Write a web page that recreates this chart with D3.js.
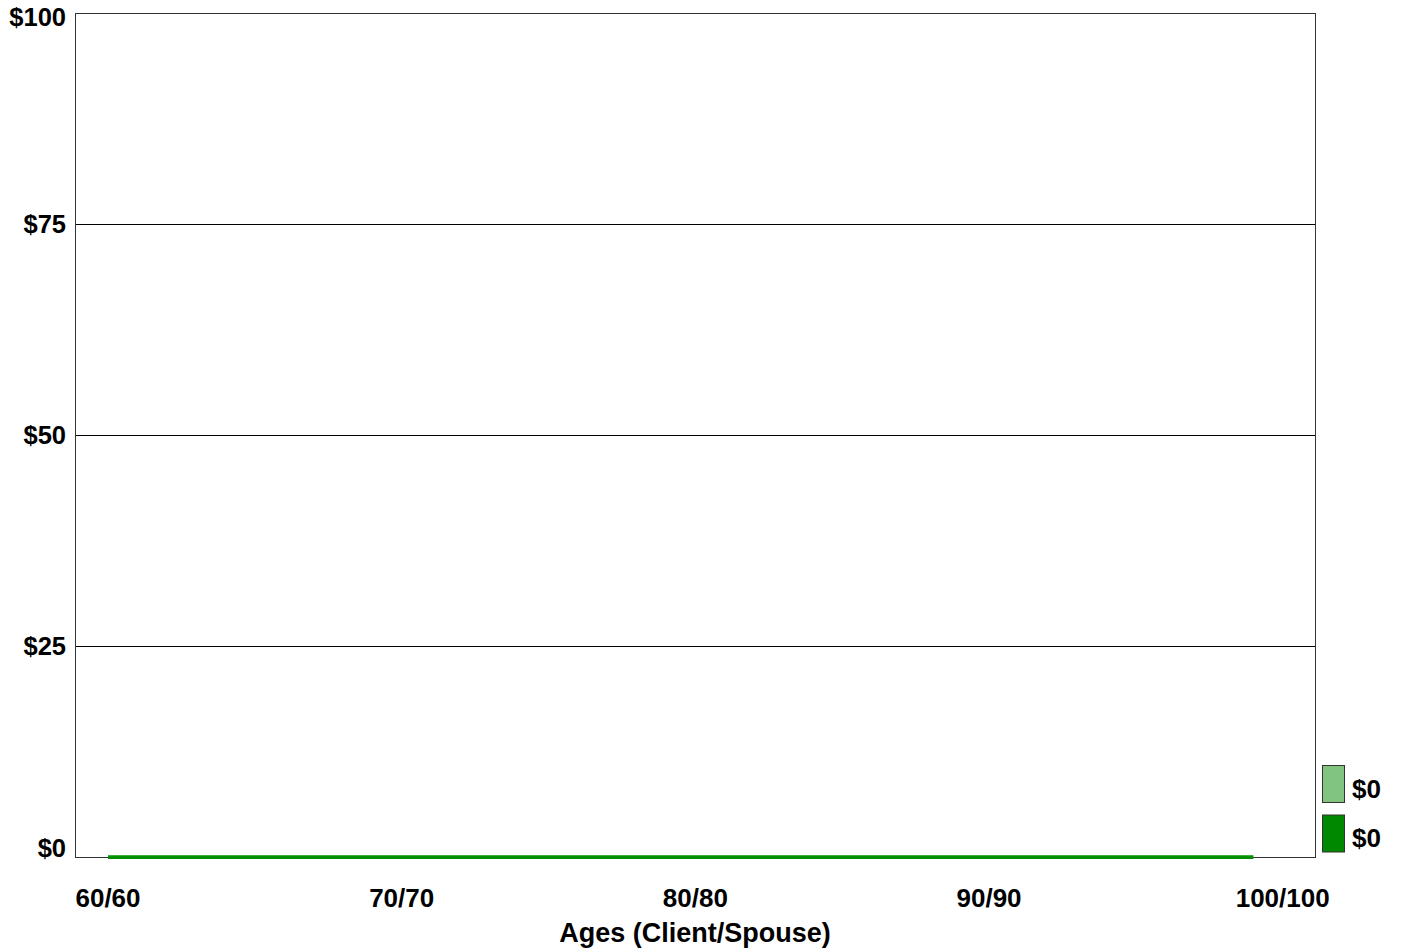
<!DOCTYPE html>
<html>
<head>
<meta charset="utf-8">
<script src="https://cdn.jsdelivr.net/npm/d3@7"></script>
<style>
  html, body { margin: 0; padding: 0; background: #fff; }
  svg { display: block; font-family: "Liberation Sans", Arial, sans-serif; font-weight: bold; }
</style>
</head>
<body>
<svg id="chart" width="1401" height="951"></svg>
<script>
// Ages along the projection (client/spouse share the same age)
const ages = d3.range(60, 100);
// Two stacked income series, both zero over the whole horizon
const seriesLight = ages.map(() => 0);
const seriesDark = ages.map(() => 0);
const legendValues = ["$0", "$0"];
const yTicks = [0, 25, 50, 75, 100];
const xTicks = [60, 70, 80, 90, 100];
const xTitle = "Ages (Client/Spouse)";

const svg = d3.select("#chart");
const plot = { left: 75, right: 1315, top: 13, bottom: 857 };

const x = d3.scaleLinear().domain([58.876, 101.1]).range([plot.left, plot.right]);
const y = d3.scaleLinear().domain([0, 100]).range([plot.bottom, plot.top]);

// horizontal grid lines
svg.append("g").selectAll("line")
  .data(yTicks.filter(v => v > 0 && v < 100))
  .join("line")
  .attr("x1", plot.left).attr("x2", plot.right)
  .attr("y1", d => y(d) + 0.5).attr("y2", d => y(d) + 0.5)
  .attr("stroke", "#000").attr("stroke-width", 1);

// plot frame
svg.append("rect")
  .attr("x", plot.left + 0.5).attr("y", plot.top + 0.5)
  .attr("width", plot.right - plot.left).attr("height", plot.bottom - plot.top)
  .attr("fill", "none").attr("stroke", "#333").attr("stroke-width", 1);

// y tick labels, kept inside the drawing area at the extremes
svg.append("g").selectAll("text")
  .data(yTicks)
  .join("text")
  .attr("x", 66)
  .attr("y", d => Math.min(Math.max(y(d), 17), 848))
  .attr("dy", "0.35em")
  .attr("text-anchor", "end")
  .attr("font-size", 25.5)
  .text(d => "$" + d);

// x tick labels
svg.append("g").selectAll("text")
  .data(xTicks)
  .join("text")
  .attr("x", d => x(d))
  .attr("y", 907)
  .attr("text-anchor", "middle")
  .attr("font-size", 26)
  .text(d => d + "/" + d);

svg.append("text")
  .attr("x", (plot.left + plot.right) / 2)
  .attr("y", 942)
  .attr("text-anchor", "middle")
  .attr("font-size", 27)
  .text(xTitle);

// stacked series
const stacked = ages.map((a, i) => ({ age: a, dark: seriesDark[i], light: seriesDark[i] + seriesLight[i] }));

const area = (key0, key1) => d3.area()
  .x(d => x(d.age))
  .y0(d => y(key0 ? d[key0] : 0))
  .y1(d => y(d[key1]));

svg.append("path").datum(stacked)
  .attr("d", area("dark", "light"))
  .attr("fill", "#80c480");
svg.append("path").datum(stacked)
  .attr("d", area(null, "dark"))
  .attr("fill", "#008800");

svg.append("path").datum(stacked)
  .attr("d", d3.line().x(d => x(d.age)).y(d => y(d.light) + 0.2))
  .attr("fill", "none").attr("stroke", "#009000").attr("stroke-width", 3.8);

// legend
const legendColors = ["#80c480", "#008800"];
const lg = svg.append("g");
legendValues.forEach((v, i) => {
  const ly = 765.5 + i * 49.5;
  lg.append("rect")
    .attr("x", 1322.5).attr("y", ly)
    .attr("width", 22).attr("height", 37)
    .attr("fill", legendColors[i]).attr("stroke", "#333").attr("stroke-width", 1);
  lg.append("text")
    .attr("x", 1352).attr("y", ly + 32)
    .attr("font-size", 26)
    .text(v);
});
</script>
</body>
</html>
